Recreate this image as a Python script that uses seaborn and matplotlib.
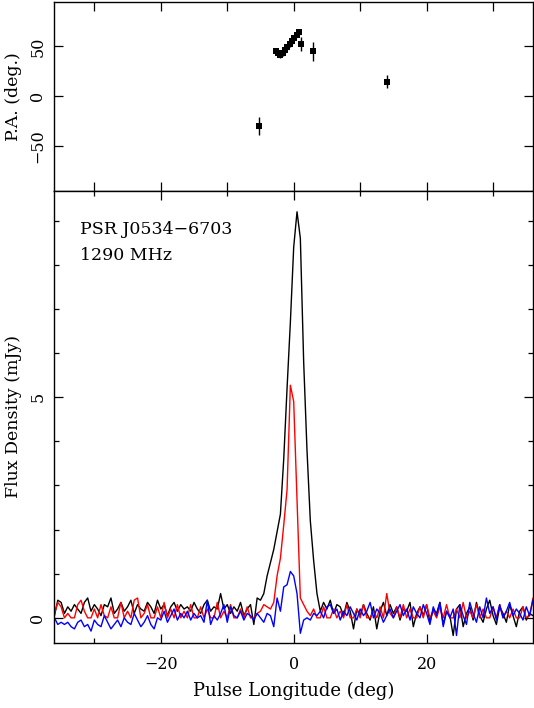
import numpy as np
import pandas as pd
import matplotlib
matplotlib.use("Agg")
import matplotlib.pyplot as plt
import seaborn as sns

# pulse longitude grid (deg), 0.5 deg bins
longitude = np.arange(-36.0, 36.01, 0.5)

# total intensity (mJy)
flux_i = [
    0.05, 0.40, 0.35, 0.10, 0.25, 0.15, 0.30, 0.20, 0.10, 0.35,
    0.45, 0.15, 0.30, 0.20, 0.05, 0.30, 0.25, 0.45, 0.10, 0.20,
    0.35, 0.15, 0.25, 0.40, 0.10, 0.30, 0.20, 0.15, 0.35, 0.25,
    0.10, 0.40, 0.20, 0.30, 0.05, 0.25, 0.35, 0.15, 0.30, 0.20,
    0.25, 0.15, 0.35, 0.20, 0.10, 0.30, 0.40, 0.15, 0.25, 0.20,
    0.55, 0.20, 0.30, 0.10, 0.25, 0.15, 0.35, 0.05, 0.20, 0.30,
    -0.15, 0.45, 0.40, 0.55, 0.95, 1.25, 1.55, 1.95, 2.35, 3.60,
    5.20, 6.70, 8.40, 9.20, 8.60, 5.80, 3.80, 2.20, 1.30, 0.55,
    0.15, 0.35, 0.20, 0.40, 0.10, 0.30, 0.25, 0.05, 0.35, 0.15,
    -0.25, 0.20, 0.05, 0.30, 0.10, -0.05, 0.25, -0.25, 0.15, 0.35,
    0.05, 0.30, 0.10, 0.25, -0.05, 0.20, 0.15, 0.35, -0.20, 0.10,
    0.25, 0.05, 0.30, -0.10, 0.20, 0.10, 0.35, -0.15, 0.15, 0.05,
    -0.40, 0.20, 0.30, -0.20, 0.10, 0.25, -0.05, 0.35, 0.05, -0.10,
    0.20, 0.40, 0.05, -0.15, 0.25, 0.10, -0.10, 0.30, 0.05, -0.20,
    0.15, 0.25, -0.05, 0.10, 0.05,
]

# linear polarisation (mJy)
flux_l = [
    0.10, 0.35, 0.25, 0.00, 0.10, 0.00, 0.00, 0.30, 0.40, 0.15,
    0.00, 0.00, 0.20, 0.00, 0.30, 0.05, 0.00, 0.25, 0.00, 0.00,
    0.35, 0.00, 0.15, 0.00, 0.40, 0.45, 0.00, 0.10, 0.30, 0.00,
    0.00, 0.25, 0.00, 0.35, 0.00, 0.20, 0.00, 0.30, 0.00, 0.15,
    0.00, 0.30, 0.00, 0.00, 0.25, 0.00, 0.20, 0.00, 0.00, 0.35,
    0.00, 0.15, 0.00, 0.30, 0.00, 0.00, 0.20, 0.00, 0.25, 0.00,
    0.00, 0.10, 0.15, 0.30, 0.25, 0.20, 0.35, 0.95, 1.35, 2.10,
    2.90, 5.27, 4.90, 2.70, 0.45, 0.30, 0.15, 0.05, 0.20, 0.00,
    0.00, 0.25, 0.00, 0.00, 0.20, 0.00, 0.15, 0.00, 0.30, 0.00,
    0.00, 0.20, 0.00, 0.30, 0.00, 0.00, 0.15, 0.00, 0.25, 0.00,
    0.55, 0.10, 0.00, 0.25, 0.00, 0.30, 0.00, 0.20, 0.00, 0.00,
    0.25, 0.00, 0.30, 0.00, 0.15, 0.00, 0.25, 0.00, 0.30, 0.00,
    0.00, 0.20, 0.00, 0.35, 0.00, 0.15, 0.00, 0.30, 0.00, 0.20,
    0.00, 0.00, 0.25, 0.00, 0.30, 0.00, 0.15, 0.00, 0.20, 0.00,
    0.00, 0.25, 0.00, 0.05, 0.45,
]

# circular polarisation (mJy)
flux_v = [
    0.00, -0.15, -0.10, -0.15, -0.10, -0.20, -0.25, -0.10, -0.05, -0.20,
    -0.15, -0.30, -0.05, -0.15, -0.20, 0.05, -0.10, -0.25, -0.15, -0.05,
    -0.20, 0.00, -0.10, -0.15, 0.10, -0.05, -0.20, -0.10, 0.05, -0.15,
    -0.25, 0.00, -0.05, 0.15, -0.10, 0.05, 0.20, -0.05, 0.10, 0.00,
    0.15, -0.05, 0.10, 0.00, 0.05, -0.10, 0.40, -0.15, 0.05, -0.05,
    0.10, 0.30, -0.10, 0.25, 0.05, 0.00, 0.15, -0.05, 0.10, 0.05,
    -0.05, 0.10, 0.00, -0.10, 0.10, 0.05, -0.20, 0.45, 0.15, 0.70,
    0.75, 1.05, 0.95, 0.55, -0.35, -0.05, 0.00, -0.05, 0.10, 0.05,
    0.15, 0.00, 0.25, 0.30, 0.10, 0.20, -0.05, 0.15, 0.05, 0.25,
    0.10, -0.05, 0.20, 0.05, 0.15, 0.35, 0.00, 0.20, 0.10, -0.10,
    0.05, 0.20, 0.00, 0.15, 0.30, 0.05, 0.20, -0.05, 0.25, 0.10,
    0.00, 0.30, 0.10, -0.15, 0.25, 0.05, 0.35, -0.20, 0.15, 0.00,
    0.20, -0.40, 0.30, 0.05, -0.15, 0.35, 0.10, -0.10, 0.25, 0.00,
    0.45, 0.10, 0.25, -0.05, 0.30, 0.00, 0.15, 0.35, 0.05, 0.20,
    0.10, -0.05, 0.25, 0.05, 0.40,
]

# position angle points
pa_lon = [-5.2, -2.7, -2.35, -2.0, -1.65, -1.3, -0.95, -0.6, -0.25, 0.1, 0.45, 0.8, 1.1, 2.9, 14.1]
pa_deg = [-30.0, 45.0, 43.0, 41.5, 43.5, 46.0, 49.0, 52.0, 55.0, 58.5, 61.5, 64.0, 52.5, 45.0, 14.5]
pa_err = [9.0, 3.0, 3.0, 3.0, 3.0, 2.5, 2.5, 2.5, 2.5, 2.5, 2.5, 2.5, 7.0, 9.5, 6.5]

profile = pd.DataFrame({"lon": longitude, "I": flux_i, "L": flux_l, "V": flux_v})
pa_df = pd.DataFrame({"lon": pa_lon, "pa": pa_deg, "err": pa_err})

sns.set_style("white")
plt.rcParams["font.family"] = ["DejaVu Serif", "DejaVu Sans"]
plt.rcParams["font.size"] = 11.5
plt.rcParams["text.color"] = "black"
plt.rcParams["axes.labelcolor"] = "black"
plt.rcParams["xtick.color"] = "black"
plt.rcParams["ytick.color"] = "black"

fig = plt.figure(figsize=(5.34, 7.08), dpi=100)
ax_pa = fig.add_axes([0.102, 0.7307, 0.896, 0.267])
ax_fl = fig.add_axes([0.102, 0.0918, 0.896, 0.639])

# ---- P.A. panel ----
ax_pa.errorbar(pa_df["lon"], pa_df["pa"], yerr=pa_df["err"], fmt="none",
               ecolor="black", elinewidth=1.0, capsize=0)
sns.scatterplot(data=pa_df, x="lon", y="pa", marker="s", s=18, color="black",
                edgecolor="black", linewidth=0, ax=ax_pa)
ax_pa.set_xlim(-36, 36)
ax_pa.set_ylim(-95, 95)
ax_pa.set_yticks([-50, 0, 50])
ax_pa.set_xticks(np.arange(-30, 31, 10))
ax_pa.tick_params(axis="x", labelbottom=False)
ax_pa.set_xlabel("")
ax_pa.set_ylabel("P.A. (deg.)", fontsize=12.5)

# ---- flux panel ----
for col, colour in [("I", "black"), ("L", "red"), ("V", "blue")]:
    sns.lineplot(data=profile, x="lon", y=col, color=colour, linewidth=1.0,
                 estimator=None, ax=ax_fl)
ax_fl.set_xlim(-36, 36)
ax_fl.set_ylim(-0.57, 9.68)
ax_fl.set_xticks([-20, 0, 20])
ax_fl.set_xticks(np.arange(-30, 31, 10), minor=True)
ax_fl.set_yticks([0, 5])
ax_fl.set_yticks(np.arange(0, 10, 1), minor=True)
ax_fl.set_xlabel("Pulse Longitude (deg)", fontsize=13)
ax_fl.set_ylabel("Flux Density (mJy)", fontsize=12.5)
ax_fl.text(0.054, 0.915, "PSR J0534\u22126703", transform=ax_fl.transAxes,
           fontsize=12.5, ha="left", va="center")
ax_fl.text(0.054, 0.857, "1290 MHz", transform=ax_fl.transAxes,
           fontsize=12.5, ha="left", va="center")

for ax in (ax_pa, ax_fl):
    for sp in ax.spines.values():
        sp.set_visible(True)
        sp.set_color("black")
        sp.set_linewidth(1.0)
    ax.tick_params(which="major", direction="in", length=6.5, width=0.9,
                   top=True, right=True, bottom=True, left=True, colors="black",
                   labelsize=11.5, pad=9)
    ax.tick_params(which="minor", direction="in", length=3.6, width=0.9,
                   top=True, right=True, bottom=True, left=True)
    ax.tick_params(axis="y", labelrotation=90, pad=6)
    for lab in ax.get_yticklabels():
        lab.set_va("center")
    ax.yaxis.set_label_coords(-0.068, 0.5)
    ax.set_facecolor("white")

ax_fl.xaxis.set_label_coords(0.5, -0.085)

fig.savefig("out.png", dpi=100, facecolor="white")
